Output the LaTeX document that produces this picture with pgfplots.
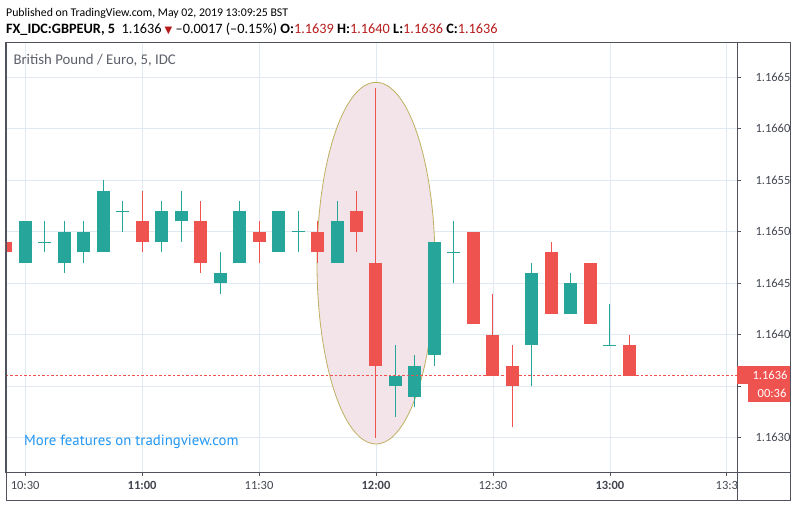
\documentclass[border=0pt]{standalone}
\usepackage{pgfplots}
\pgfplotsset{compat=1.18}
\usepackage{pgfplotstable}
\usepackage{fontspec}
\setmainfont{Carlito}
\newfontfamily\symfont{DejaVu Sans}
\newfontfamily\tvfont{PT Sans}
\definecolor{up}{HTML}{26A69A}
\definecolor{dn}{HTML}{EF5350}
\definecolor{gridc}{RGB}{225,234,242}
\definecolor{framec}{RGB}{80,83,94}
\definecolor{txt}{RGB}{67,70,81}
\definecolor{subtxt}{RGB}{93,96,107}
\definecolor{hdrred}{RGB}{183,28,28}
\definecolor{tvblue}{RGB}{33,150,243}
\definecolor{ellfill}{RGB}{242,228,233}
\definecolor{elldraw}{RGB}{190,176,96}

% time in minutes after 10:00
\pgfplotstableread{
t   o      h      l      c
30  1.1647 1.1651 1.1647 1.1651
40  1.1647 1.1651 1.1646 1.1650
45  1.1648 1.1651 1.1647 1.1650
50  1.1648 1.1655 1.1648 1.1654
65  1.1649 1.1653 1.1648 1.1652
70  1.1651 1.1654 1.1649 1.1652
80  1.1645 1.1648 1.1644 1.1646
85  1.1647 1.1653 1.1647 1.1652
95  1.1648 1.1652 1.1648 1.1652
110 1.1647 1.1653 1.1647 1.1651
125 1.1635 1.1639 1.1632 1.1636
130 1.1634 1.1638 1.1633 1.1637
135 1.1638 1.1649 1.1637 1.1649
160 1.1639 1.1647 1.1635 1.1646
170 1.1642 1.1646 1.1642 1.1645
}\uptab

\pgfplotstableread{
t   o      h      l      c
25  1.1649 1.1649 1.1648 1.1648
60  1.1651 1.1654 1.1648 1.1649
75  1.1651 1.1653 1.1646 1.1647
90  1.1650 1.1651 1.1647 1.1649
105 1.1650 1.1651 1.1647 1.1648
115 1.1652 1.1654 1.1648 1.1650
120 1.1647 1.1664 1.1630 1.1637
145 1.1650 1.1650 1.1641 1.1641
150 1.1640 1.1644 1.1636 1.1636
155 1.1637 1.1639 1.1631 1.1635
165 1.1648 1.1649 1.1642 1.1642
175 1.1647 1.1647 1.1641 1.1641
185 1.1639 1.1640 1.1636 1.1636
}\dntab

\pgfplotstableread{
t   o      h      l      c
35  1.1649 1.1651 1.1648 1.1649
55  1.1652 1.1653 1.1650 1.1652
100 1.1650 1.1652 1.1648 1.1650
140 1.1648 1.1651 1.1645 1.1648
180 1.1639 1.1643 1.1639 1.1639
}\dojitab

\begin{document}
\begin{tikzpicture}
\path[use as bounding box] (-6pt,-35pt) rectangle (791pt,472pt);
\begin{axis}[
  at={(0pt,0pt)}, anchor=south west,
  scale only axis, width=731pt, height=429pt,
  xmin=25.1, xmax=212.6, ymin=1.162667, ymax=1.166833,
  axis line style={draw=framec, line width=1pt},
  grid=major, major grid style={draw=gridc, line width=0.8pt},
  tick align=outside, major tick length=4pt,
  tick style={draw=framec, line width=0.8pt},
  xtick pos=left, ytick pos=right, yticklabel pos=right,
  xtick={30,60,90,120,150,180,210},
  xticklabels={10:30,\textbf{11:00},11:30,\textbf{12:00},12:30,\textbf{13:00},13:3},
  ytick={1.163,1.1635,1.164,1.1645,1.165,1.1655,1.166,1.1665},
  yticklabels={1.1630,,1.1640,1.1645,1.1650,1.1655,1.1660,1.1665},
  tick label style={font=\fontsize{12.5}{14}\selectfont, text=txt},
  yticklabel style={xshift=11pt},
  xticklabel style={yshift=-2pt},
]
\fill[ellfill] (axis cs:120,1.164695) ellipse [x radius=15.13, y radius=0.001756];
\draw[elldraw, line width=0.8pt] (axis cs:120,1.164695) ellipse [x radius=15.13, y radius=0.001756];

% wicks
\addplot[draw=none, mark=none, error bars/.cd, y dir=plus, y explicit, error mark=none,
  error bar style={line width=1pt, draw=up}] table[x=t, y=l, y error expr=\thisrow{h}-\thisrow{l}] {\uptab};
\addplot[draw=none, mark=none, error bars/.cd, y dir=plus, y explicit, error mark=none,
  error bar style={line width=1pt, draw=dn}] table[x=t, y=l, y error expr=\thisrow{h}-\thisrow{l}] {\dntab};
\addplot[draw=none, mark=none, error bars/.cd, y dir=plus, y explicit, error mark=none,
  error bar style={line width=1pt, draw=up}] table[x=t, y=l, y error expr=\thisrow{h}-\thisrow{l}] {\dojitab};
% bodies
\addplot[draw=none, mark=none, error bars/.cd, y dir=plus, y explicit, error mark=none,
  error bar style={line width=13pt, draw=up}] table[x=t, y=o, y error expr=\thisrow{c}-\thisrow{o}] {\uptab};
\addplot[draw=none, mark=none, error bars/.cd, y dir=plus, y explicit, error mark=none,
  error bar style={line width=13pt, draw=dn}] table[x=t, y=c, y error expr=\thisrow{o}-\thisrow{c}] {\dntab};
\addplot[only marks, mark=-, mark size=6.5pt, mark options={line width=1pt, draw=up}] table[x=t, y=o] {\dojitab};

% last price line
\addplot[dn, line width=1pt, dash pattern=on 2.5pt off 2pt] coordinates {(25.1,1.1636) (212.6,1.1636)};
\end{axis}

% outer frame
\draw[framec, line width=1pt] (0pt,-28pt) rectangle (784pt,429pt);
\draw[framec, line width=1pt] (731pt,-28pt) -- (731pt,429pt);
\draw[framec, line width=1pt] (0pt,0pt) -- (784pt,0pt);

% price labels
\fill[dn] (731pt,88pt) rectangle (784pt,106pt);
\node[text=white, font=\fontsize{12.5}{14}\selectfont, inner sep=0pt] at (764pt,97pt) {1.1636};
\fill[dn] (742pt,70pt) rectangle (784pt,88pt);
\node[text=white, font=\fontsize{12.5}{14}\selectfont, inner sep=0pt] at (766pt,79pt) {00:36};

% header
\node[anchor=base west, inner sep=0pt, text=black, font=\fontsize{11.8}{14}\selectfont] at (0pt,455.3pt)
  {Published on TradingView.com, May 02, 2019 13:09:25 BST};
\node[anchor=base west, inner sep=0pt, text=black, font=\fontsize{14.3}{16}\selectfont] at (0pt,438pt)
  {\bfseries FX\_IDC:GBPEUR, 5\mdseries\ \ 1.1636 {\symfont\color{hdrred}\fontsize{10}{12}\selectfont ▼} –0.0017 (–0.15\%) \textbf{O:}\textcolor{hdrred}{1.1639} \textbf{H:}\textcolor{hdrred}{1.1640} \textbf{L:}\textcolor{hdrred}{1.1636} \textbf{C:}\textcolor{hdrred}{1.1636}};
\node[anchor=base west, inner sep=0pt, text=subtxt, font=\fontsize{14.8}{16}\selectfont] at (7.3pt,407pt)
  {British Pound / Euro, 5, IDC};
\node[anchor=base west, inner sep=0pt, text=tvblue, font=\tvfont\fontsize{14.8}{16}\selectfont] at (18pt,27pt)
  {More features on tradingview.com};
\end{tikzpicture}
\end{document}
